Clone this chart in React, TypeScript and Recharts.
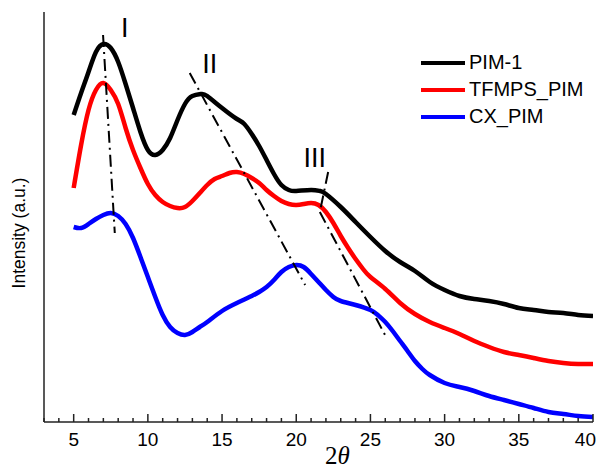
import React from 'react';
import { LineChart, Line, XAxis, YAxis, ReferenceLine, ReferenceDot, Legend } from 'recharts';

// ---- data (2θ in degrees, intensity in arbitrary units) ----
const pim1X = [5, 5.5, 6, 6.5, 7, 7.5, 8, 8.5, 9, 9.5, 10, 10.5, 11, 11.5, 12, 12.5, 13, 13.6, 14, 15, 16, 16.5, 17, 17.5, 18, 18.5, 19, 19.5, 20, 21, 21.6, 22, 23, 24, 25, 26, 27, 28, 29, 30, 31, 32, 33, 34, 35, 36, 37, 38, 39, 40];
const pim1Y = [307, 329, 350, 370, 378, 374, 360, 338, 314, 290, 272, 267, 272, 284, 302, 318, 326, 328, 326, 314, 303, 298, 288, 276, 262, 248, 237, 232, 231, 232, 231, 228, 215, 200, 185, 171, 160, 151, 140, 132, 126, 123, 121, 118, 114, 112, 110, 109, 107, 106];

const tfmpsX = [5, 5.5, 6, 6.5, 7, 7.5, 8, 8.5, 9, 9.5, 10, 10.5, 11, 11.5, 12, 12.5, 13, 13.5, 14, 14.5, 15, 15.5, 16, 16.5, 17, 17.5, 18, 18.5, 19, 19.5, 20, 20.5, 21, 21.5, 22, 22.5, 23, 23.5, 24, 24.5, 25, 26, 27, 28, 29, 30, 31, 32, 33, 34, 35, 36, 37, 38, 39, 40];
const tfmpsY = [234, 277, 312, 332, 339, 332, 318, 294, 272, 254, 238, 227, 220, 216, 214, 215, 221, 229, 237, 243, 246, 249, 250, 248, 244, 239, 232, 226, 221, 218, 217, 218, 219, 217, 210, 199, 186, 174, 163, 153, 145, 133, 119, 108, 100, 94, 88, 81, 75, 70, 67, 64, 61, 59, 58, 58];

const cxX = [5, 5.5, 6, 6.5, 7, 7.5, 8, 8.5, 9, 9.5, 10, 10.5, 11, 11.5, 12, 12.5, 13, 13.5, 14, 15, 16, 17, 17.5, 18, 18.5, 19, 19.5, 20, 20.5, 21, 21.5, 22, 22.5, 23, 24, 25, 25.5, 26, 26.5, 27, 27.5, 28, 28.5, 29, 30, 31, 32, 33, 34, 35, 36, 37, 38, 39, 40];
const cxY = [195, 194, 198, 203, 207, 209, 206, 198, 184, 165, 145, 125, 107, 95, 89, 87, 90, 95, 100, 111, 119, 126, 130, 135, 142, 150, 155, 157, 155, 148, 140, 132, 125, 121, 117, 112, 107, 100, 91, 81, 71, 61, 53, 47, 39, 35, 31, 26, 22, 18, 14, 10, 8, 6, 5];

// dash-dot guide lines (2θ, intensity)
const guideI = [{ x: 6.98, y: 387 }, { x: 7.77, y: 189 }];
const guideII = [{ x: 12.82, y: 349 }, { x: 20.6, y: 137 }];
const guideIIIa = [{ x: 22.15, y: 250 }, { x: 21.59, y: 210 }];
const guideIIIb = [{ x: 21.59, y: 210 }, { x: 26.09, y: 84 }];

const peakLabels = [
  { text: 'I', x: 8.44, y: 385 },
  { text: 'II', x: 14.17, y: 349 },
  { text: 'III', x: 21.25, y: 255 },
];

const seriesOrder = ['PIM-1', 'TFMPS_PIM', 'CX_PIM'];

const xTicks = [3, 4, 5, 6, 7, 8, 9, 10, 11, 12, 13, 14, 15, 16, 17, 18, 19, 20, 21, 22, 23, 24, 25, 26, 27, 28, 29, 30, 31, 32, 33, 34, 35, 36, 37, 38, 39, 40];
const majorTicks = [5, 10, 15, 20, 25, 30, 35, 40];

const toPoints = (xs: number[], ys: number[]) => xs.map((x, i) => ({ x, y: ys[i] }));
const pim1 = toPoints(pim1X, pim1Y);
const tfmps = toPoints(tfmpsX, tfmpsY);
const cx = toPoints(cxX, cxY);

const SANS = '"Liberation Sans", Arial, sans-serif';
const SERIF = '"Liberation Serif", "Times New Roman", serif';
const AXIS = '#222';
const DASH = '12 5 2 5';

const XTick = (props: any) => {
  const { x, y, payload } = props;
  const v = payload.value;
  const major = majorTicks.includes(v);
  const isLast = v === xTicks[xTicks.length - 1];
  return (
    <g>
      <line x1={x} x2={x} y1={y} y2={y - (major ? 8 : 4)} stroke={AXIS} strokeWidth={1.5} />
      {major && (
        <text
          x={isLast ? x + 3 : x}
          y={y + 24}
          textAnchor={isLast ? 'end' : 'middle'}
          fontSize={19}
          fontFamily={SANS}
          fill="#000"
        >
          {v}
        </text>
      )}
    </g>
  );
};

const XLabel = (props: any) => {
  const vb = props.viewBox || { x: 36, y: 414, width: 550, height: 40 };
  return (
    <text x={vb.x + vb.width / 2 + 19} y={vb.y + 42} textAnchor="middle" fontSize={25} fontFamily={SERIF} fill="#000">
      2<tspan fontStyle="italic">θ</tspan>
    </text>
  );
};

const YLabel = (props: any) => {
  const vb = props.viewBox || { x: 6, y: 4, width: 30, height: 410 };
  const cxp = vb.x + vb.width - 25;
  const cyp = vb.y + vb.height / 2 + 16;
  return (
    <text x={cxp} y={cyp} transform={`rotate(-90, ${cxp}, ${cyp})`} textAnchor="middle" dominantBaseline="central" fontSize={17.5} fontFamily={SANS} fill="#000">
      Intensity (a.u.)
    </text>
  );
};

const LegendContent = (props: any) => {
  const payload = [...(props.payload || [])].sort(
    (a: any, b: any) => seriesOrder.indexOf(a.value) - seriesOrder.indexOf(b.value)
  );
  return (
    <div style={{ fontFamily: SANS }}>
      {payload.map((p: any) => (
        <div key={p.value} style={{ display: 'flex', alignItems: 'center', height: 27 }}>
          <div style={{ width: 44, height: 4, background: p.color, marginRight: 4 }} />
          <span style={{ fontSize: 20, color: '#000', lineHeight: '27px' }}>{p.value}</span>
        </div>
      ))}
    </div>
  );
};

const labelShape = (text: string) => (p: any) => (
  <text x={p.cx} y={p.cy} textAnchor="middle" fontSize={27} fontFamily={SANS} fill="#000">
    {text}
  </text>
);

export default function App() {
  return (
    <LineChart width={589} height={460} margin={{ top: 4, right: 4, bottom: 6, left: 6 }}>
      <XAxis
        type="number"
        dataKey="x"
        domain={[3, 40]}
        ticks={xTicks}
        interval={0}
        tick={<XTick />}
        tickLine={false}
        tickSize={0}
        tickMargin={0}
        height={40}
        axisLine={{ stroke: AXIS, strokeWidth: 1.5 }}
        allowDataOverflow
        label={<XLabel />}
      />
      <YAxis
        type="number"
        dataKey="y"
        domain={[0, 410]}
        width={30}
        tick={false}
        tickLine={false}
        axisLine={{ stroke: AXIS, strokeWidth: 1.5 }}
        label={<YLabel />}
      />
      <Legend
        layout="vertical"
        align="center"
        verticalAlign="middle"
        content={<LegendContent />}
        wrapperStyle={{ left: 413, top: 41, width: 176, height: 81 }}
      />
      <Line data={pim1} dataKey="y" name="PIM-1" type="natural" stroke="#000000" strokeWidth={4.5} dot={false} isAnimationActive={false} />
      <Line data={tfmps} dataKey="y" name="TFMPS_PIM" type="natural" stroke="#ff0000" strokeWidth={4.5} dot={false} isAnimationActive={false} />
      <Line data={cx} dataKey="y" name="CX_PIM" type="natural" stroke="#0000ff" strokeWidth={4.5} dot={false} isAnimationActive={false} />
      <ReferenceLine segment={guideI} stroke="#000" strokeWidth={2} strokeDasharray={DASH} ifOverflow="visible" />
      <ReferenceLine segment={guideII} stroke="#000" strokeWidth={2} strokeDasharray={DASH} ifOverflow="visible" />
      <ReferenceLine segment={guideIIIa} stroke="#000" strokeWidth={2} strokeDasharray={DASH} ifOverflow="visible" />
      <ReferenceLine segment={guideIIIb} stroke="#000" strokeWidth={2} strokeDasharray={DASH} ifOverflow="visible" />
      {peakLabels.map((l) => (
        <ReferenceDot key={l.text} x={l.x} y={l.y} r={0} ifOverflow="visible" shape={labelShape(l.text)} />
      ))}
    </LineChart>
  );
}
